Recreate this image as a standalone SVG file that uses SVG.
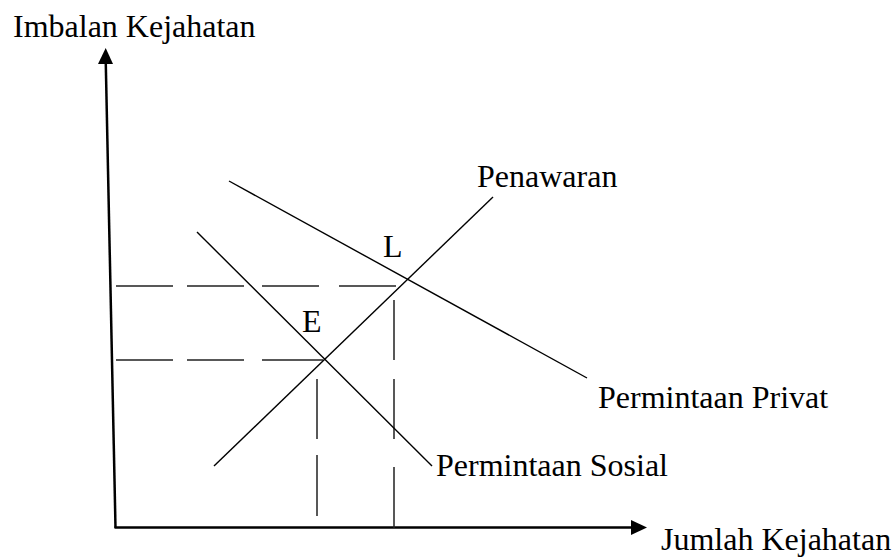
<svg xmlns="http://www.w3.org/2000/svg" width="896" height="557" viewBox="0 0 896 557">
<style>
text{font-family:"Liberation Serif","Times New Roman",serif;font-size:32px;fill:#000}
.axis{stroke:#000;stroke-width:2.5;fill:none}
.curve{stroke:#000;stroke-width:1.4;fill:none}
.dash{stroke:#222;stroke-width:1.5;fill:none}
</style>
<rect width="896" height="557" fill="#fff"/>
<g id="connectors">
<g id="axes">
<line class="axis" x1="105.7" y1="60" x2="115.5" y2="528"/>
<line class="axis" x1="114.5" y1="527.5" x2="634" y2="527.5"/>
<polygon points="105.7,48 98,64 113,64" fill="#000"/>
<polygon points="647,527.5 631,520 631,535" fill="#000"/>
</g>
<g id="dashes">
<path class="dash" d="M116,286H173M187,286H244M262,286H319M339,286H396"/>
<path class="dash" d="M116,360H173M187,360H244M262,360H323"/>
<path class="dash" d="M394,300V360M394,379V439M394,467V528"/>
<path class="dash" d="M317,379V439M317,455V516"/>
</g>
<line id="supply" class="curve" x1="214" y1="466" x2="493" y2="197"/>
<line id="social-demand" class="curve" x1="197" y1="232" x2="432" y2="466"/>
<line id="private-demand" class="curve" x1="229" y1="181" x2="587" y2="378"/>
</g>
<g id="labels">
<text x="13" y="37">Imbalan Kejahatan</text>
<text x="477" y="187">Penawaran</text>
<text x="383" y="257">L</text>
<text x="302" y="332">E</text>
<text x="598" y="408">Permintaan Privat</text>
<text x="436" y="476">Permintaan Sosial</text>
<text x="661" y="550">Jumlah Kejahatan</text>
</g>
</svg>
